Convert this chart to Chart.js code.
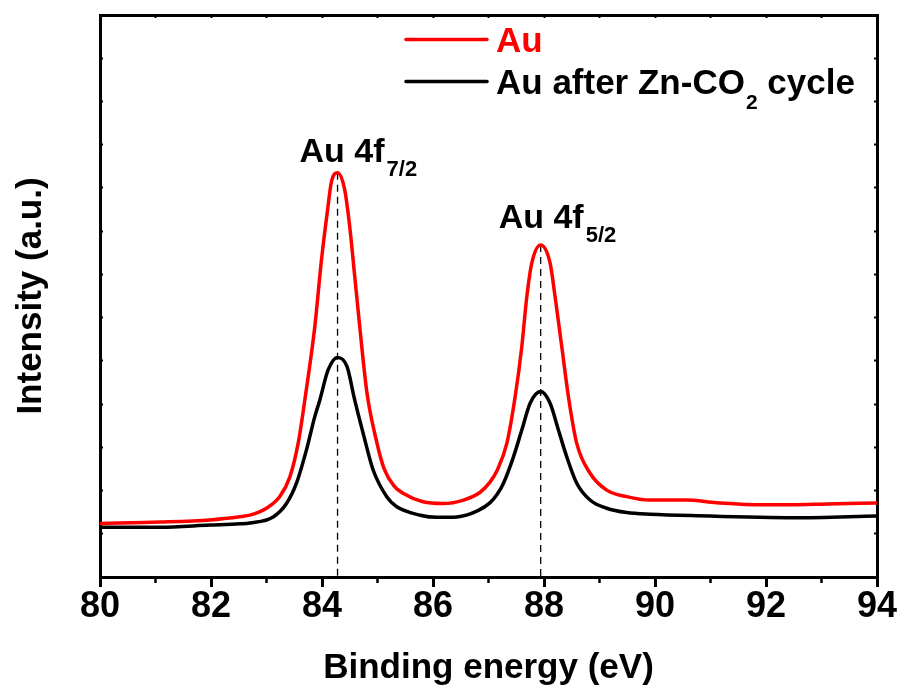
<!DOCTYPE html>
<html>
<head>
<meta charset="utf-8">
<script src="https://cdn.jsdelivr.net/npm/chart.js@4"></script>
<style>
  html, body { margin: 0; padding: 0; background: #fff; }
  canvas { display: block; }
</style>
</head>
<body>
<canvas id="xps" width="901" height="696"></canvas>
<script>
// Au 4f XPS spectra, fresh electrode vs. after Zn-CO2 cycling
const auEnergy = [80.0, 81.08, 81.98, 82.55, 82.70, 83.00, 83.24, 83.42, 83.57, 83.69, 83.87, 83.99, 84.10, 84.17, 84.28, 84.41, 84.50, 84.59, 84.68, 84.81, 84.99, 85.12, 85.30, 85.46, 85.82, 86.18, 86.55, 86.85, 87.03, 87.15, 87.33, 87.48, 87.60, 87.69, 87.78, 87.94, 88.11, 88.20, 88.32, 88.44, 88.59, 88.83, 89.13, 89.49, 89.91, 90.57, 91.11, 91.95, 92.49, 93.09, 94.0];
const auIntensity = [1.24, 1.27, 1.32, 1.40, 1.43, 1.59, 1.86, 2.31, 3.09, 4.09, 5.79, 7.33, 8.49, 9.14, 9.35, 8.95, 8.10, 6.95, 5.79, 4.26, 3.10, 2.50, 2.10, 1.94, 1.74, 1.70, 1.78, 1.96, 2.20, 2.45, 3.09, 4.17, 5.33, 6.48, 7.26, 7.68, 7.26, 6.48, 5.33, 4.17, 3.09, 2.40, 2.01, 1.86, 1.78, 1.78, 1.72, 1.67, 1.67, 1.69, 1.71];

const cycledEnergy = [80.0, 81.08, 81.98, 82.52, 82.70, 83.12, 83.36, 83.54, 83.72, 83.87, 83.96, 84.11, 84.28, 84.45, 84.59, 84.74, 84.92, 85.17, 85.34, 85.77, 86.07, 86.43, 86.80, 87.03, 87.15, 87.27, 87.45, 87.60, 87.75, 87.94, 88.11, 88.26, 88.41, 88.59, 88.83, 89.13, 89.49, 89.91, 90.99, 91.89, 92.49, 94.0];
const cycledIntensity = [1.15, 1.15, 1.20, 1.23, 1.25, 1.39, 1.70, 2.17, 2.94, 3.71, 4.09, 4.79, 5.08, 4.87, 4.09, 3.33, 2.48, 1.85, 1.63, 1.43, 1.38, 1.39, 1.53, 1.72, 1.90, 2.17, 2.78, 3.40, 4.02, 4.29, 4.02, 3.40, 2.78, 2.17, 1.78, 1.59, 1.49, 1.45, 1.41, 1.38, 1.37, 1.41];

const peakEnergies = [84.28, 87.94];
const peakNames = ['Au 4f', 'Au 4f'];
const peakSubs = ['7/2', '5/2'];

const xTicksMajor = [80, 82, 84, 86, 88, 90, 92, 94];

const FONT = "'Liberation Sans', Arial, sans-serif";

const toPoints = (xs, ys) => xs.map((v, i) => ({ x: v, y: ys[i] }));
const peakTops = peakEnergies.map(e => auIntensity[auEnergy.indexOf(e)]);

// dashed drop lines from each peak down to the axis
const dropLines = peakEnergies.map((e, i) => ({
  data: [{ x: e, y: peakTops[i] }, { x: e, y: 0 }],
  borderColor: '#000',
  borderWidth: 1.3,
  borderDash: [7, 5],
  pointRadius: 0,
  order: 3
}));

const peakLabels = {
  id: 'peakLabels',
  afterDatasetsDraw(chart) {
    const { ctx, scales: { x, y } } = chart;
    const offsets = [[-38, -11], [-42, -17]];
    ctx.save();
    ctx.fillStyle = '#000';
    ctx.textBaseline = 'alphabetic';
    peakEnergies.forEach((e, i) => {
      const px = x.getPixelForValue(e) + offsets[i][0];
      const py = y.getPixelForValue(peakTops[i]) + offsets[i][1];
      ctx.font = 'bold 34px ' + FONT;
      ctx.fillText(peakNames[i], px, py);
      const w = ctx.measureText(peakNames[i]).width;
      ctx.font = 'bold 22px ' + FONT;
      ctx.fillText(peakSubs[i], px + w + 2, py + 14);
    });

    // legend
    ctx.lineWidth = 3.5;
    ctx.lineCap = 'round';
    ctx.strokeStyle = '#ff0000';
    ctx.beginPath(); ctx.moveTo(406, 39.5); ctx.lineTo(487, 39.5); ctx.stroke();
    ctx.strokeStyle = '#000';
    ctx.beginPath(); ctx.moveTo(406, 81.5); ctx.lineTo(487, 81.5); ctx.stroke();

    ctx.font = 'bold 35px ' + FONT;
    ctx.fillStyle = '#ff0000';
    ctx.fillText('Au', 496, 52);
    ctx.fillStyle = '#000';
    const t1 = 'Au after Zn-CO';
    ctx.fillText(t1, 496, 94);
    let cx = 496 + ctx.measureText(t1).width + 1;
    ctx.font = 'bold 21px ' + FONT;
    ctx.fillText('2', cx, 109);
    cx += ctx.measureText('2').width;
    ctx.font = 'bold 35px ' + FONT;
    ctx.fillText(' cycle', cx, 94);
    ctx.restore();
  }
};

const inwardAxis = (position, min, max, step) => ({
  type: 'linear',
  position,
  min, max,
  ticks: { display: false, stepSize: step },
  grid: { drawOnChartArea: false, drawTicks: true, tickLength: -3, tickWidth: 2, tickColor: '#000' },
  border: { display: true, width: 3, color: '#000' },
  afterFit: s => { if (s.isHorizontal()) s.height = 0; else s.width = 0; }
});

new Chart(document.getElementById('xps'), {
  type: 'line',
  data: {
    datasets: [
      {
        label: 'Au',
        data: toPoints(auEnergy, auIntensity),
        borderColor: '#ff0000',
        borderWidth: 3.5,
        pointRadius: 0,
        cubicInterpolationMode: 'monotone',
        order: 1
      },
      {
        label: 'Au after Zn-CO2 cycle',
        data: toPoints(cycledEnergy, cycledIntensity),
        borderColor: '#000',
        borderWidth: 3.5,
        pointRadius: 0,
        cubicInterpolationMode: 'monotone',
        order: 2
      },
      ...dropLines
    ]
  },
  options: {
    responsive: false,
    animation: false,
    layout: { padding: { top: 15, right: 24, left: 0, bottom: 0 } },
    plugins: { legend: { display: false }, tooltip: { enabled: false } },
    scales: {
      xMinor: {
        type: 'linear',
        position: 'bottom',
        weight: -1,
        min: 80, max: 94,
        ticks: { display: false, stepSize: 1 },
        grid: { drawOnChartArea: false, drawTicks: true, tickLength: 6, tickWidth: 2.5, tickColor: '#000' },
        border: { display: false },
        afterFit: s => { s.height = 0; }
      },
      x: {
        type: 'linear',
        position: 'bottom',
        min: 80, max: 94,
        afterBuildTicks: s => { s.ticks = xTicksMajor.map(v => ({ value: v })); },
        ticks: {
          color: '#000',
          padding: -2,
          maxRotation: 0,
          font: { family: FONT, size: 36, weight: 'bold' }
        },
        grid: { drawOnChartArea: false, drawTicks: true, tickLength: 10, tickWidth: 3, tickColor: '#000' },
        border: { display: true, width: 3, color: '#000' },
        title: {
          display: true,
          text: 'Binding energy (eV)',
          color: '#000',
          font: { family: FONT, size: 35, weight: 'bold' },
          padding: { top: 0, bottom: 7 }
        },
        afterFit: s => { s.height = 119; }
      },
      y: {
        type: 'linear',
        position: 'left',
        min: 0, max: 13,
        ticks: { display: false, stepSize: 1 },
        grid: { drawOnChartArea: false, drawTicks: true, tickLength: -3, tickWidth: 2, tickColor: '#000' },
        border: { display: true, width: 3, color: '#000' },
        title: {
          display: true,
          text: 'Intensity (a.u.)',
          color: '#000',
          font: { family: FONT, size: 35, weight: 'bold' },
          padding: { top: 10, bottom: 0 }
        },
        afterFit: s => { s.width = 100; }
      },
      xTop: inwardAxis('top', 80, 94, 1),
      yRight: inwardAxis('right', 0, 13, 1)
    }
  },
  plugins: [peakLabels]
});
</script>
</body>
</html>
